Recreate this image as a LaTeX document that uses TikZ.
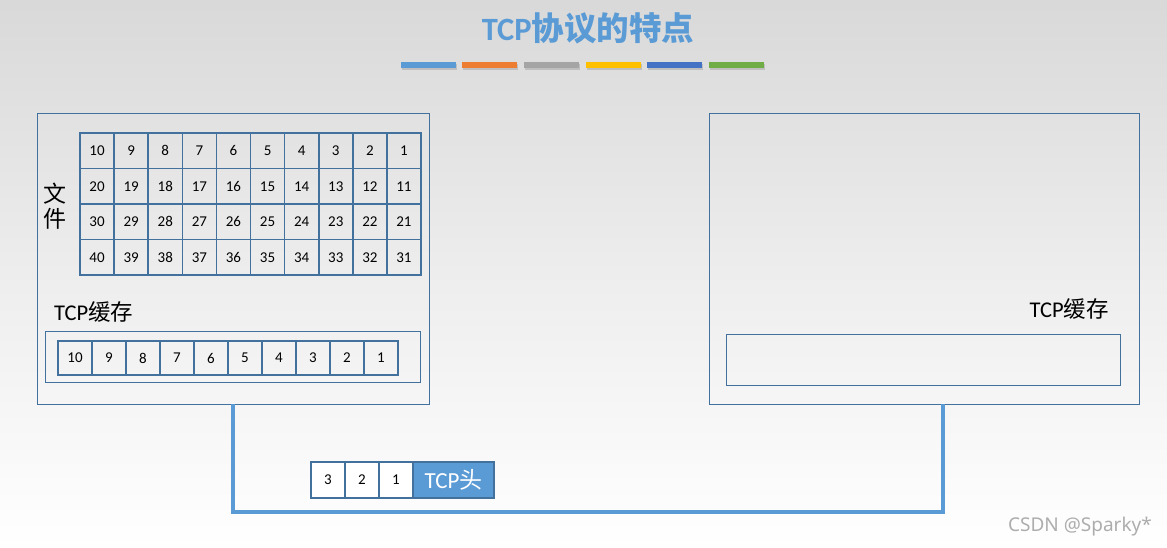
\documentclass[tikz,border=0pt]{standalone}
\usepackage{fontspec}
\setmainfont{Carlito}
\newfontfamily\cjk{Noto Sans CJK SC}
\newfontfamily\wmfont{Noto Sans}
\definecolor{frame}{RGB}{65,113,156}
\definecolor{tcpblue}{RGB}{91,155,213}
\definecolor{barA}{RGB}{91,155,213}
\definecolor{barB}{RGB}{237,125,49}
\definecolor{barC}{RGB}{165,165,165}
\definecolor{barD}{RGB}{255,192,0}
\definecolor{barE}{RGB}{68,114,196}
\definecolor{barF}{RGB}{112,173,71}
\tikzset{
  hostbox/.style={draw=frame, line width=0.9pt, inner sep=0pt},
  cell/.style={draw=frame, line width=1.6pt, inner sep=0pt, minimum width=34.1pt, minimum height=35.5pt, font=\fontsize{15}{15}\selectfont},
  bufcell/.style={draw=frame, line width=1.2pt, inner sep=0pt, minimum width=34pt, minimum height=34pt, font=\fontsize{15}{15}\selectfont},
  pktcell/.style={draw=frame, line width=1.2pt, fill=white, inner sep=0pt, minimum width=34pt, minimum height=36pt, font=\fontsize{15}{15}\selectfont},
  bufbox/.style={draw=frame, line width=1pt, inner sep=0pt},
  bar/.style={minimum width=55pt, minimum height=6pt, inner sep=0pt},
  wire/.style={draw=tcpblue, line width=3.3pt},
}
\begin{document}
\begin{tikzpicture}[x=1pt,y=-1pt]
\useasboundingbox (0,0) rectangle (1167,548);
\shade[top color=black!15, bottom color=white, middle color=black!7] (0,0) rectangle (1167,548);
% title
\node (title) at (588,28) {\fontsize{32.5}{32}\selectfont\bfseries\color{tcpblue}TCP{\cjk\bfseries 协议的特点}};
% bars
\foreach \c/\x [count=\i] in {barA/428.5, barB/489.5, barC/551.5, barD/613.5, barE/674.5, barF/736.5}{
  \fill[black!25] (\x-27.5+1,63+1.5) rectangle (\x+27.5+1,69+1.5);
  \node[bar, fill=\c] (bar\i) at (\x,65) {};
}
% left host
\node[hostbox, minimum width=392pt, minimum height=291pt] (lbox) at (233,258.5) {};
% right host
\node[hostbox, minimum width=430pt, minimum height=291pt] (rbox) at (924,258.5) {};
% file label
\node[font=\cjk\fontsize{23}{25}\selectfont, align=center, inner sep=0pt] (file) at (55,206) {文\\件};
% file grid
\foreach \r in {0,...,3}{
  \foreach \c in {0,...,9}{
    \pgfmathtruncatemacro{\v}{10*(\r+1)-\c}
    \node[cell] (g\r-\c) at ({80+34.1*(\c+0.5)},{133+35.5*(\r+0.5)}) {\v};
  }
}
% left TCP buffer
\node[anchor=west, inner sep=0pt, font=\fontsize{22.5}{22}\selectfont] (lbuflabel) at (54,312) {TCP{\cjk 缓存}};
\node[bufbox, minimum width=375pt, minimum height=51pt] (lbuf) at (232.5,356.5) {};
\foreach \c in {0,...,9}{
  \pgfmathtruncatemacro{\v}{10-\c}
  \node[bufcell] (b\c) at ({58+34*(\c+0.5)},358) {\v};
}
% right TCP buffer
\node[anchor=east, inner sep=0pt, font=\fontsize{22.5}{22}\selectfont] (rbuflabel) at (1109,309) {TCP{\cjk 缓存}};
\node[bufbox, minimum width=394pt, minimum height=51pt] (rbuf) at (923,359.5) {};
% wire
\coordinate (bot) at (0,512);
\coordinate (rtop) at (943,404);
\draw[wire] (lbox.south) -- (lbox.south |- bot) -- (bot -| rtop) -- (rtop);
% packet
\foreach \v [count=\i from 0] in {3,2,1}{
  \node[pktcell] (p\v) at ({311+34*(\i+0.5)},480) {\v};
}
\node[draw=frame, line width=1.2pt, fill=tcpblue, inner sep=0pt, minimum width=81pt, minimum height=36pt, text=white, font=\fontsize{23}{23}\selectfont] (hdr) at (453.5,480) {TCP{\cjk 头}};
% watermark
\node[anchor=east, inner sep=0pt, text=black!32, font=\wmfont\fontsize{19}{19}\selectfont] (wm) at (1152,527) {CSDN @Sparky*};
\end{tikzpicture}
\end{document}
